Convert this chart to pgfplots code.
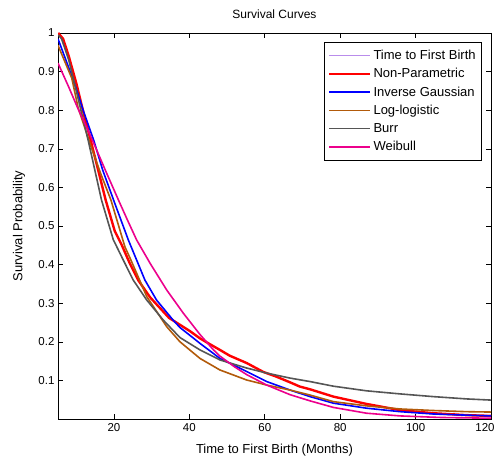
\documentclass[border=0pt]{standalone}
\usepackage{fontspec}
\setmainfont{Liberation Sans}
\usepackage{pgfplots}
\pgfplotsset{compat=1.18}
\definecolor{brownc}{RGB}{178,90,10}
\definecolor{greyc}{RGB}{85,85,85}
\definecolor{purplec}{RGB}{185,140,235}
\begin{document}
\begin{tikzpicture}
\useasboundingbox (0,0) rectangle (497pt,459pt);
\begin{axis}[
  at={(58pt,40pt)}, anchor=south west,
  scale only axis, width=433pt, height=386pt,
  xmin=5.15, xmax=120, ymin=0, ymax=1,
  xtick={20,40,60,80,100,120},
  xticklabels={20,40,60,80,100,{\hspace*{-12pt}120}},
  ytick={0.1,0.2,0.3,0.4,0.5,0.6,0.7,0.8,0.9,1},
  tick align=inside, major tick length=5pt,
  tick style={black, line width=0.6pt},
  axis line style={line width=0.8pt},
  /pgf/number format/assume math mode=true,
  tick label style={font=\fontsize{11.5}{12}\selectfont},
  xticklabel style={yshift=-1pt},
  label style={font=\fontsize{13}{14}\selectfont},
  title=Survival Curves,
  title style={font=\fontsize{12}{13}\selectfont, at={(axis description cs:0.5,1)}, anchor=center, yshift=13pt},
  xlabel={Time to First Birth (Months)},
  xlabel style={at={(axis description cs:0.5,0)}, anchor=center, yshift=-31pt},
  ylabel={Survival Probability},
  ylabel style={at={(axis description cs:0,0.5)}, anchor=center, yshift=39pt},
  legend style={at={(rel axis cs:0.979,0.977)}, anchor=north east, draw=black, line width=0.6pt,
    font=\fontsize{13}{14}\selectfont, row sep=3.4pt, inner xsep=4pt, inner ysep=6pt, cells={anchor=west}},
  legend image code/.code={\draw[#1] (0pt,0pt) -- (41pt,0pt);},
  every axis plot/.append style={line join=round},
]
% Time to First Birth (empirical)
\addplot[purplec, line width=0.8pt] coordinates {
(5.2,1.0)(6.5,0.985)(8,0.94)(10,0.87)(12,0.79)(13.8,0.723)(15.8,0.645)(17.8,0.567)(20.2,0.487)(22,0.452)(24.2,0.403)(26.4,0.36)(29.6,0.315)(34.6,0.262)(37.5,0.244)(40.1,0.228)(42.8,0.209)(45.4,0.194)(48.1,0.179)(50.7,0.164)(55.2,0.145)(59.6,0.122)(63,0.110)(66.7,0.095)(69.3,0.084)(72,0.077)(78.2,0.058)(87,0.039)(95.9,0.023)(104.7,0.015)(113.6,0.010)(120,0.008)};
\addlegendentry{Time to First Birth}
% Non-Parametric
\addplot[red, line width=2.4pt] coordinates {
(5.2,1.0)(6.5,0.985)(8,0.94)(10,0.87)(12,0.79)(13.8,0.723)(15.8,0.645)(17.8,0.567)(20.2,0.487)(22,0.452)(24.2,0.403)(26.4,0.36)(29.6,0.315)(34.6,0.262)(37.5,0.244)(40.1,0.228)(42.8,0.209)(45.4,0.194)(48.1,0.179)(50.7,0.164)(55.2,0.145)(59.6,0.122)(63,0.110)(66.7,0.095)(69.3,0.084)(72,0.077)(78.2,0.058)(87,0.039)(95.9,0.023)(104.7,0.015)(113.6,0.010)(120,0.008)};
\addlegendentry{Non-Parametric}
% Inverse Gaussian
\addplot[blue, line width=1.6pt] coordinates {
(5.15,0.985)(8,0.91)(10,0.855)(12,0.795)(14.7,0.72)(17,0.645)(19.9,0.567)(23.8,0.464)(26.0,0.412)(28.2,0.36)(31.3,0.308)(35.7,0.256)(37.5,0.237)(41,0.210)(42.8,0.196)(48.1,0.157)(55.2,0.123)(60.5,0.097)(66.7,0.075)(72,0.058)(78.2,0.041)(87,0.028)(95.9,0.019)(104.7,0.013)(113.6,0.010)(120,0.008)};
\addlegendentry{Inverse Gaussian}
% Log-logistic
\addplot[brownc, line width=1.6pt] coordinates {
(5.15,0.968)(7,0.925)(8.8,0.883)(10.5,0.806)(13.9,0.706)(16.5,0.635)(19.2,0.567)(22.9,0.446)(24.3,0.416)(28.7,0.317)(34,0.239)(37.5,0.200)(42.8,0.157)(48.1,0.127)(55.2,0.101)(60.5,0.088)(66.7,0.075)(72,0.062)(78.2,0.045)(87,0.034)(95.9,0.026)(104.7,0.022)(113.6,0.019)(120,0.018)};
\addlegendentry{Log-logistic}
% Burr
\addplot[greyc, line width=1.6pt] coordinates {
(5.2,0.995)(6.1,0.985)(8,0.93)(10,0.85)(13.2,0.72)(16.7,0.567)(19.8,0.465)(22.3,0.415)(25.1,0.36)(28.7,0.308)(33.1,0.256)(37.5,0.211)(42.8,0.179)(48.1,0.153)(55.2,0.132)(60.5,0.119)(66.7,0.106)(72,0.097)(78.2,0.085)(87,0.073)(95.9,0.065)(104.7,0.058)(113.6,0.052)(120,0.049)};
\addlegendentry{Burr}
% Weibull
\addplot[magenta, line width=1.6pt] coordinates {
(5.15,0.922)(8,0.86)(10.5,0.803)(13,0.75)(15,0.706)(18,0.638)(21.2,0.567)(23.5,0.517)(26,0.464)(29.6,0.403)(34,0.334)(38.4,0.274)(42.8,0.219)(46.4,0.179)(48.1,0.163)(52,0.135)(55.2,0.115)(60.5,0.088)(66.7,0.063)(72,0.047)(78.2,0.030)(87,0.015)(95.9,0.008)(106.5,0.004)(120,0.002)};
\addlegendentry{\rule[-14pt]{0pt}{14pt}Weibull}
\end{axis}
\end{tikzpicture}
\end{document}
